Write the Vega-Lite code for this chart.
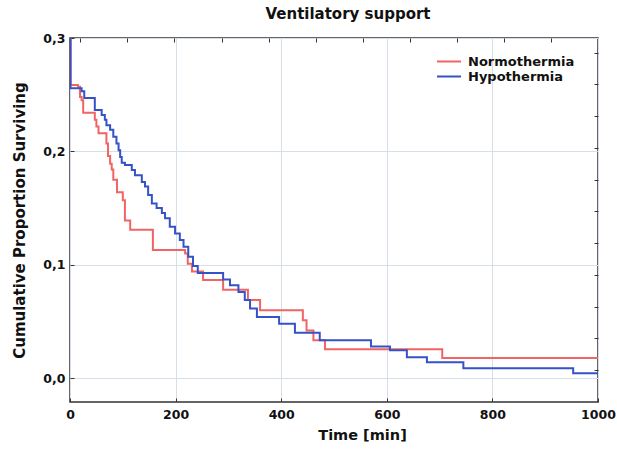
{
  "$schema": "https://vega.github.io/schema/vega-lite/v6.json",
  "width": 528,
  "height": 364,
  "autosize": {"type": "none"},
  "padding": {"left": 70, "top": 38, "right": 19, "bottom": 48},
  "background": "white",
  "title": {"text": "Ventilatory support", "font": "DejaVu Sans", "fontSize": 15, "fontWeight": "bold", "color": "#111", "anchor": "middle", "dx": 14, "offset": 10},
  "config": {
    "view": {"stroke": "#333", "strokeWidth": 1.5},
    "font": "DejaVu Sans"
  },
  "data": {"values": [
    {"group": "Normothermia", "time": 0, "surv": 0.30},
    {"group": "Normothermia", "time": 1, "surv": 0.2586},
    {"group": "Normothermia", "time": 15, "surv": 0.257},
    {"group": "Normothermia", "time": 19, "surv": 0.248},
    {"group": "Normothermia", "time": 22, "surv": 0.245},
    {"group": "Normothermia", "time": 25, "surv": 0.234},
    {"group": "Normothermia", "time": 47, "surv": 0.228},
    {"group": "Normothermia", "time": 50, "surv": 0.222},
    {"group": "Normothermia", "time": 54, "surv": 0.216},
    {"group": "Normothermia", "time": 69, "surv": 0.207},
    {"group": "Normothermia", "time": 72, "surv": 0.196},
    {"group": "Normothermia", "time": 76, "surv": 0.189},
    {"group": "Normothermia", "time": 79, "surv": 0.184},
    {"group": "Normothermia", "time": 82, "surv": 0.175},
    {"group": "Normothermia", "time": 89, "surv": 0.164},
    {"group": "Normothermia", "time": 100, "surv": 0.157},
    {"group": "Normothermia", "time": 104, "surv": 0.139},
    {"group": "Normothermia", "time": 114, "surv": 0.131},
    {"group": "Normothermia", "time": 157, "surv": 0.113},
    {"group": "Normothermia", "time": 218, "surv": 0.110},
    {"group": "Normothermia", "time": 223, "surv": 0.101},
    {"group": "Normothermia", "time": 231, "surv": 0.094},
    {"group": "Normothermia", "time": 252, "surv": 0.0865},
    {"group": "Normothermia", "time": 290, "surv": 0.078},
    {"group": "Normothermia", "time": 337, "surv": 0.069},
    {"group": "Normothermia", "time": 360, "surv": 0.060},
    {"group": "Normothermia", "time": 441, "surv": 0.051},
    {"group": "Normothermia", "time": 448, "surv": 0.042},
    {"group": "Normothermia", "time": 461, "surv": 0.0335},
    {"group": "Normothermia", "time": 483, "surv": 0.0256},
    {"group": "Normothermia", "time": 705, "surv": 0.0177},
    {"group": "Normothermia", "time": 1000, "surv": 0.0177},
    {"group": "Hypothermia", "time": 0, "surv": 0.30},
    {"group": "Hypothermia", "time": 1, "surv": 0.2556},
    {"group": "Hypothermia", "time": 22, "surv": 0.253},
    {"group": "Hypothermia", "time": 27, "surv": 0.247},
    {"group": "Hypothermia", "time": 47, "surv": 0.2365},
    {"group": "Hypothermia", "time": 60, "surv": 0.232},
    {"group": "Hypothermia", "time": 66, "surv": 0.228},
    {"group": "Hypothermia", "time": 69, "surv": 0.223},
    {"group": "Hypothermia", "time": 76, "surv": 0.219},
    {"group": "Hypothermia", "time": 82, "surv": 0.213},
    {"group": "Hypothermia", "time": 88, "surv": 0.207},
    {"group": "Hypothermia", "time": 92, "surv": 0.201},
    {"group": "Hypothermia", "time": 95, "surv": 0.195},
    {"group": "Hypothermia", "time": 98, "surv": 0.190},
    {"group": "Hypothermia", "time": 104, "surv": 0.188},
    {"group": "Hypothermia", "time": 117, "surv": 0.1835},
    {"group": "Hypothermia", "time": 123, "surv": 0.179},
    {"group": "Hypothermia", "time": 136, "surv": 0.173},
    {"group": "Hypothermia", "time": 142, "surv": 0.169},
    {"group": "Hypothermia", "time": 148, "surv": 0.1615},
    {"group": "Hypothermia", "time": 155, "surv": 0.154},
    {"group": "Hypothermia", "time": 164, "surv": 0.150},
    {"group": "Hypothermia", "time": 174, "surv": 0.1456},
    {"group": "Hypothermia", "time": 180, "surv": 0.141},
    {"group": "Hypothermia", "time": 189, "surv": 0.1335},
    {"group": "Hypothermia", "time": 199, "surv": 0.1277},
    {"group": "Hypothermia", "time": 208, "surv": 0.1218},
    {"group": "Hypothermia", "time": 215, "surv": 0.116},
    {"group": "Hypothermia", "time": 224, "surv": 0.107},
    {"group": "Hypothermia", "time": 233, "surv": 0.099},
    {"group": "Hypothermia", "time": 242, "surv": 0.0927},
    {"group": "Hypothermia", "time": 290, "surv": 0.087},
    {"group": "Hypothermia", "time": 303, "surv": 0.082},
    {"group": "Hypothermia", "time": 319, "surv": 0.076},
    {"group": "Hypothermia", "time": 331, "surv": 0.069},
    {"group": "Hypothermia", "time": 341, "surv": 0.0615},
    {"group": "Hypothermia", "time": 354, "surv": 0.054},
    {"group": "Hypothermia", "time": 396, "surv": 0.048},
    {"group": "Hypothermia", "time": 426, "surv": 0.040},
    {"group": "Hypothermia", "time": 473, "surv": 0.0335},
    {"group": "Hypothermia", "time": 570, "surv": 0.028},
    {"group": "Hypothermia", "time": 606, "surv": 0.0247},
    {"group": "Hypothermia", "time": 638, "surv": 0.0185},
    {"group": "Hypothermia", "time": 676, "surv": 0.014},
    {"group": "Hypothermia", "time": 745, "surv": 0.0088},
    {"group": "Hypothermia", "time": 953, "surv": 0.0044},
    {"group": "Hypothermia", "time": 1000, "surv": 0.0044}
  ]},
  "layer": [
    {
      "mark": {"type": "line", "interpolate": "step-after", "strokeWidth": 2, "clip": true},
      "encoding": {
        "x": {"field": "time", "type": "quantitative",
          "scale": {"domain": [0, 1000], "nice": false, "zero": false},
          "axis": {"orient": "bottom", "values": [0, 200, 400, 600, 800, 1000], "format": "d", "title": "Time [min]",
            "titleFont": "DejaVu Sans", "titleFontSize": 14.5, "titleFontWeight": "bold", "titleColor": "#111", "titleX": 292, "titlePadding": 8,
            "labelFont": "DejaVu Sans", "labelFontSize": 12.5, "labelFontWeight": "bold", "labelColor": "#111", "labelPadding": 10,
            "tickSize": -4, "tickColor": "#333", "domain": false,
            "grid": true, "gridColor": "#d6dee9", "gridWidth": 1, "labelFlush": false}},
        "y": {"field": "surv", "type": "quantitative",
          "scale": {"domain": [-0.021, 0.3], "nice": false, "zero": false},
          "axis": {"orient": "left", "values": [0, 0.1, 0.2, 0.3], "title": "Cumulative Proportion Surviving",
            "labelExpr": "replace(format(datum.value, '.1f'), '.', ',')",
            "titleFont": "DejaVu Sans", "titleFontSize": 15, "titleFontWeight": "bold", "titleColor": "#111", "titlePadding": 15,
            "labelFont": "DejaVu Sans", "labelFontSize": 12.5, "labelFontWeight": "bold", "labelColor": "#111", "labelPadding": 9,
            "tickSize": -4, "tickColor": "#333", "domain": false,
            "grid": true, "gridColor": "#d6dee9", "gridWidth": 1, "labelFlush": false}},
        "color": {"field": "group", "type": "nominal",
          "scale": {"domain": ["Normothermia", "Hypothermia"], "range": ["#f06464", "#3552c6"]},
          "legend": {"orient": "none", "legendX": 366, "legendY": 16, "title": null,
            "symbolType": "stroke", "symbolSize": 576, "symbolStrokeWidth": 2, "labelOffset": 6,
            "clipHeight": 15, "rowPadding": 0,
            "labelFont": "DejaVu Sans", "labelFontSize": 13, "labelFontWeight": "bold", "labelColor": "#111"}}
      }
    },
    {
      "mark": {"type": "point", "opacity": 0},
      "encoding": {
        "x": {"field": "time", "type": "quantitative",
          "axis": {"orient": "top", "values": [19, 108, 197, 287, 376, 465, 554, 643, 733, 822, 911], "title": null, "labels": false, "domain": false, "grid": false, "tickSize": -4, "tickColor": "#333"}},
        "y": {"field": "surv", "type": "quantitative",
          "axis": {"orient": "right", "values": [0.007, 0.035, 0.063, 0.091, 0.119, 0.147, 0.175, 0.203, 0.231, 0.259, 0.287], "title": null, "labels": false, "domain": false, "grid": false, "tickSize": -4, "tickColor": "#333"}}
      }
    }
  ],
  "resolve": {"axis": {"x": "independent", "y": "independent"}}
}
